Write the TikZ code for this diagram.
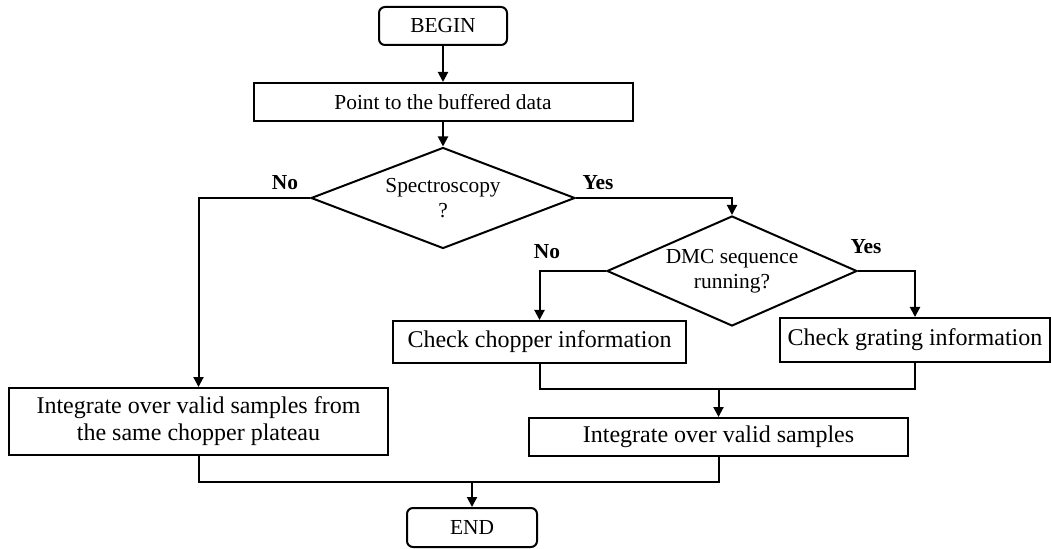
\documentclass[tikz,border=0pt]{standalone}
\usepackage{fontspec}
\setmainfont{Liberation Serif}
\usetikzlibrary{shapes.geometric,arrows.meta}
\begin{document}
\begin{tikzpicture}[x=0.5pt, y=-0.5pt, line width=1pt, >={Triangle[length=5pt,width=5pt]}]
        \tikzset{small/.style={font=\fontsize{10.7}{12.5}\selectfont},
                 large/.style={font=\fontsize{12}{13.5}\selectfont},
                 term/.style={draw, rounded corners=3pt, small, minimum width=64pt, minimum height=19pt, inner sep=0pt},
                 box/.style={draw, large, align=center, inner sep=0pt},
                 cond/.style={draw, diamond, small, align=center, inner sep=0pt, aspect=2.4},
                 lbl/.style={small, font=\fontsize{10.7}{12.5}\selectfont\bfseries}}
        \useasboundingbox (0,0) rectangle (1052,549);
        \node[term] (begin) at (443,26) {BEGIN};
        \node[box, small, minimum width=189.5pt, minimum height=19pt] (point) at (443,102) {Point to the buffered data};
        \node[cond, minimum width=132pt, minimum height=50.5pt] (spec) at (443,198) {Spectroscopy\\?};
        \node[cond, minimum width=125pt, minimum height=55pt] (dmc) at (732,271) {DMC sequence\\running?};
        \node[box, minimum width=146.5pt, minimum height=21pt] (chop) at (539.5,342) {Check chopper information};
        \node[box, minimum width=135pt, minimum height=22pt] (grat) at (915,340) {Check grating information};
        \node[box, minimum width=189.5pt, minimum height=33.5pt] (intfrom) at (198.5,421.5) {Integrate over valid samples from\\the same chopper plateau};
        \node[box, minimum width=189.5pt, minimum height=19pt] (intvalid) at (718.5,437) {Integrate over valid samples};
        \node[term, minimum width=65pt, minimum height=19.5pt] (end) at (472,527.5) {END};
        \node[lbl] (specno) at (285,183) {No};
        \node[lbl] (specyes) at (598,183) {Yes};
        \node[lbl] (dmcno) at (547,252) {No};
        \node[lbl] (dmcyes) at (866,247) {Yes};
        \coordinate (join1) at (718.5,389);
        \coordinate (join2) at (472,482);
        \draw[->] (begin) -- (point);
        \draw[->] (point) -- (spec);
        \draw[->] (spec.west) -| (intfrom.north);
        \draw[->] (spec.east) -| (dmc.north);
        \draw[->] (dmc.west) -| (chop.north);
        \draw[->] (dmc.east) -| (grat.north);
        \draw (chop.south) |- (join1) -| (grat.south);
        \draw[->] (join1) -- (intvalid.north);
        \draw (intfrom.south) |- (join2) -| (intvalid.south);
        \draw[->] (join2) -- (end.north);
    \end{tikzpicture}
\end{document}
